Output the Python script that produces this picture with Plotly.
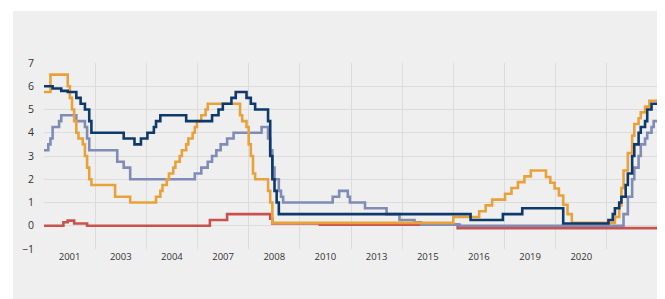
import plotly.graph_objects as go

# ---- data: policy-rate change points (month, rate in %) ----
start_month = "2000-02"
end_month = "2023-11"

fed_dates = ["2000-02", "2000-05", "2001-01", "2001-02", "2001-03", "2001-04", "2001-05", "2001-06",
             "2001-08", "2001-09", "2001-10", "2001-11", "2001-12", "2002-11", "2003-06",
             "2004-06", "2004-08", "2004-09", "2004-11", "2004-12", "2005-02", "2005-03", "2005-05",
             "2005-06", "2005-08", "2005-09", "2005-11", "2005-12", "2006-01", "2006-03", "2006-05",
             "2006-06", "2007-09", "2007-10", "2007-12", "2008-01", "2008-02", "2008-03", "2008-04",
             "2008-10", "2008-11", "2008-12", "2015-12", "2016-12", "2017-03", "2017-06", "2017-12",
             "2018-03", "2018-06", "2018-09", "2018-12", "2019-07", "2019-09", "2019-11", "2020-01",
             "2020-03", "2020-05", "2020-07", "2022-03", "2022-05", "2022-06", "2022-07", "2022-09",
             "2022-11", "2022-12", "2023-02", "2023-03", "2023-05", "2023-07"]
fed_rates = [5.75, 6.5, 6.0, 5.5, 5.0, 4.5, 4.0, 3.75,
             3.5, 3.0, 2.5, 2.0, 1.75, 1.25, 1.0,
             1.25, 1.5, 1.75, 2.0, 2.25, 2.5, 2.75, 3.0,
             3.25, 3.5, 3.75, 4.0, 4.25, 4.5, 4.75, 5.0,
             5.25, 4.75, 4.5, 4.25, 3.5, 3.0, 2.25, 2.0,
             1.5, 1.0, 0.125, 0.375, 0.625, 0.875, 1.125, 1.375,
             1.625, 1.875, 2.125, 2.375, 2.1, 1.85, 1.6, 1.3,
             0.9, 0.5, 0.125, 0.375, 0.875, 1.625, 2.375, 3.125,
             3.875, 4.375, 4.625, 4.875, 5.125, 5.375]

boe_dates = ["2000-02", "2000-06", "2000-10", "2001-01", "2001-05", "2001-07", "2001-09", "2001-11",
             "2001-12", "2003-03", "2003-08", "2003-11", "2004-02", "2004-05", "2004-06", "2004-08",
             "2005-08", "2006-08", "2006-11", "2007-01", "2007-05", "2007-07", "2007-12", "2008-02",
             "2008-04", "2008-10", "2008-11", "2008-12", "2009-01", "2009-02", "2009-03", "2016-08",
             "2017-11", "2018-08", "2020-03", "2021-12", "2022-02", "2022-03", "2022-05", "2022-06",
             "2022-08", "2022-09", "2022-11", "2022-12", "2023-02", "2023-03", "2023-05", "2023-06",
             "2023-08"]
boe_rates = [6.0, 5.9, 5.8, 5.75, 5.5, 5.25, 5.0, 4.5,
             4.0, 3.75, 3.5, 3.75, 4.0, 4.25, 4.5, 4.75,
             4.5, 4.75, 5.0, 5.25, 5.5, 5.75, 5.5, 5.25,
             5.0, 4.5, 3.0, 2.0, 1.5, 1.0, 0.5, 0.25,
             0.5, 0.75, 0.1, 0.25, 0.5, 0.75, 1.0, 1.25,
             1.75, 2.25, 3.0, 3.5, 4.0, 4.25, 4.5, 5.0,
             5.25]

ecb_dates = ["2000-02", "2000-04", "2000-05", "2000-06", "2000-09", "2000-10", "2001-05", "2001-09",
             "2001-10", "2001-11", "2002-12", "2003-03", "2003-06", "2005-12", "2006-03", "2006-06",
             "2006-08", "2006-10", "2006-12", "2007-03", "2007-06", "2008-07", "2008-10", "2008-11",
             "2008-12", "2009-01", "2009-03", "2009-04", "2009-05", "2011-04", "2011-07", "2011-11",
             "2011-12", "2012-07", "2013-05", "2013-11", "2014-06", "2014-09", "2016-03", "2022-07",
             "2022-09", "2022-11", "2022-12", "2023-02", "2023-03", "2023-05", "2023-06", "2023-08",
             "2023-09"]
ecb_rates = [3.25, 3.5, 3.75, 4.25, 4.5, 4.75, 4.5, 4.25,
             3.75, 3.25, 2.75, 2.5, 2.0, 2.25, 2.5, 2.75,
             3.0, 3.25, 3.5, 3.75, 4.0, 4.25, 3.75, 3.25,
             2.5, 2.0, 1.5, 1.25, 1.0, 1.25, 1.5, 1.25,
             1.0, 0.75, 0.5, 0.25, 0.15, 0.05, 0.0, 0.5,
             1.25, 2.0, 2.5, 3.0, 3.5, 3.75, 4.0, 4.25,
             4.5]

boj_dates = ["2000-02", "2000-11", "2001-01", "2001-04", "2001-10", "2006-07", "2007-03", "2008-11",
             "2008-12", "2010-10", "2016-02"]
boj_rates = [0.0, 0.15, 0.22, 0.1, 0.0, 0.25, 0.5, 0.3,
             0.1, 0.05, -0.1]

x_labels = ["2001", "2003", "2004", "2007", "2008", "2010", "2013", "2015", "2016", "2019", "2020"]
y_ticks = [-1, 0, 1, 2, 3, 4, 5, 6, 7]

COLORS = {"fed": "#E9A23B", "boe": "#0E3A6B", "ecb": "#7F8CB6", "boj": "#C9524F"}


def to_year(m):
    y, mo = m.split("-")
    return int(y) + (int(mo) - 1) / 12.0


x0 = to_year(start_month)
x1 = to_year(end_month)
n_int = 12
step = (x1 - x0) / n_int
grid_x = [x0 + i * step for i in range(n_int + 1)]
label_x = [x0 + (i + 0.5) * step for i in range(len(x_labels))]

fig = go.Figure()


def add_series(dates, rates, color):
    xs = [to_year(d) for d in dates] + [x1]
    ys = list(rates) + [rates[-1]]
    fig.add_trace(go.Scatter(x=xs, y=ys, mode="lines", line=dict(color=color, width=2.6, shape="hv"),
                             hoverinfo="skip", showlegend=False))


add_series(boj_dates, boj_rates, COLORS["boj"])
add_series(ecb_dates, ecb_rates, COLORS["ecb"])
add_series(fed_dates, fed_rates, COLORS["fed"])
add_series(boe_dates, boe_rates, COLORS["boe"])

# page body has an 8px margin, so figure coords = screen coords - 8
OFF = 8
W, H = 665, 299
left_px, right_px, top_px, bottom_px = 44 - OFF, 658 - OFF, 63 - OFF, 249 - OFF
L, R, T, B = left_px, W - right_px, top_px, H - bottom_px
pw, ph = right_px - left_px, bottom_px - top_px

fig.add_shape(type="rect", xref="paper", yref="paper",
              x0=(13 - OFF - left_px) / pw, x1=(660 - OFF - left_px) / pw,
              y0=(bottom_px - 320) / ph, y1=(bottom_px - (11 - OFF)) / ph,
              fillcolor="#EFEFEF", line=dict(width=0), layer="below")

fig.update_layout(
    width=W, height=H,
    margin=dict(l=L, r=R, t=T, b=B, autoexpand=False),
    paper_bgcolor="white",
    plot_bgcolor="rgba(0,0,0,0)",
    font=dict(family="Open Sans, Roboto, sans-serif", size=10, color="#333333"),
    showlegend=False,
)
fig.update_xaxes(
    range=[x0, x1], tickmode="array", tickvals=label_x, ticktext=x_labels,
    showgrid=False, zeroline=False, showline=False, ticks="", automargin=False,
    tickfont=dict(size=9.5, color="#333333"),
    minor=dict(tickmode="array", tickvals=grid_x, showgrid=True, gridcolor="#DCDCDC", gridwidth=1, ticks=""),
)
fig.update_yaxes(
    range=[-1, 7], tickmode="array", tickvals=y_ticks, automargin=False,
    showgrid=True, gridcolor="#DCDCDC", gridwidth=1, zeroline=False, showline=False, ticks="",
    ticklabelstandoff=9, tickfont=dict(size=10.5, color="#333333"),
)

fig.write_html("out.html")
